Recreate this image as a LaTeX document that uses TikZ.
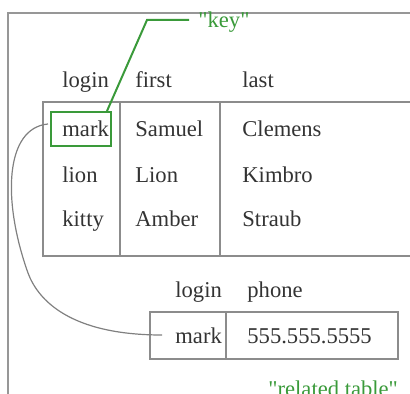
\documentclass[tikz,border=0pt]{standalone}
\usepackage{fontspec}
\setmainfont{Liberation Serif}
\newfontfamily\tablefont{Liberation Serif}
\usetikzlibrary{calc}

\definecolor{inkgray}{HTML}{333333}
\definecolor{rulegray}{HTML}{8C8C8C}
\definecolor{keygreen}{HTML}{3A9A3A}

\tikzset{
    cell/.style={anchor=base west, inner sep=0pt, text=inkgray,
        font=\tablefont\fontsize{11.3}{13}\selectfont},
    note/.style={cell, text=keygreen},
    tableline/.style={draw=rulegray, line width=0.75pt},
    frameline/.style={draw=rulegray!90, line width=0.8pt},
    keyline/.style={draw=keygreen, line width=1pt},
    linkline/.style={draw=gray, line width=0.6pt}
}

\begin{document}
\begin{tikzpicture}[x=0.5pt, y=-0.5pt]
\useasboundingbox (0,0) rectangle (410,394);

% Frame
\draw[frameline] (8,394) -- (8,13) -- (410,13);

% Main table
\draw[tableline] (410,102) -- (43,102) -- (43,256) -- (410,256);
\draw[tableline] (120,102) -- (120,256);
\draw[tableline] (220,102) -- (220,256);

\node[cell] (hlogin) at (62,88) {login};
\node[cell] (hfirst) at (135,88) {first};
\node[cell] (hlast) at (242,88) {last};

\foreach \login/\first/\last/\y [count=\i] in
    {mark/Samuel/Clemens/137, lion/Lion/Kimbro/183, kitty/Amber/Straub/227} {
    \node[cell] (login\i) at (62,\y) {\login};
    \node[cell] (first\i) at (135,\y) {\first};
    \node[cell] (last\i) at (242,\y) {\last};
}

% Key box and label
\node[keyline, minimum width=30pt, minimum height=17pt, inner sep=0pt]
    (keybox) at (81,129) {};
\coordinate (keybend) at (147,20);
\coordinate (keyend) at (189,20);
\node[note] (keylabel) at (198,28) {\symbol{34}key\symbol{34}};
\draw[keyline] ([xshift=-2.5pt]keybox.north east) -- (keybend) -- (keyend);

% Related table
\draw[tableline] (150,312) rectangle (398,359);
\draw[tableline] (226,312) -- (226,359);

\node[cell] (rlogin) at (175,297) {login};
\node[cell] (rphone) at (247,297) {phone};
\node[cell] (rmark) at (175,343) {mark};
\node[cell] (rnumber) at (247,343) {555.555.5555};

\node[note] (rellabel) at (268,396) {\symbol{34}related table\symbol{34}};

% Link between the two tables
\coordinate (linkstart) at (48,124);
\coordinate (linkend) at (162,335);
\draw[linkline] (linkstart) .. controls (5,128) and (2,200) .. (28,273)
    .. controls (38,300) and (70,335) .. (linkend);

\end{tikzpicture}
\end{document}
